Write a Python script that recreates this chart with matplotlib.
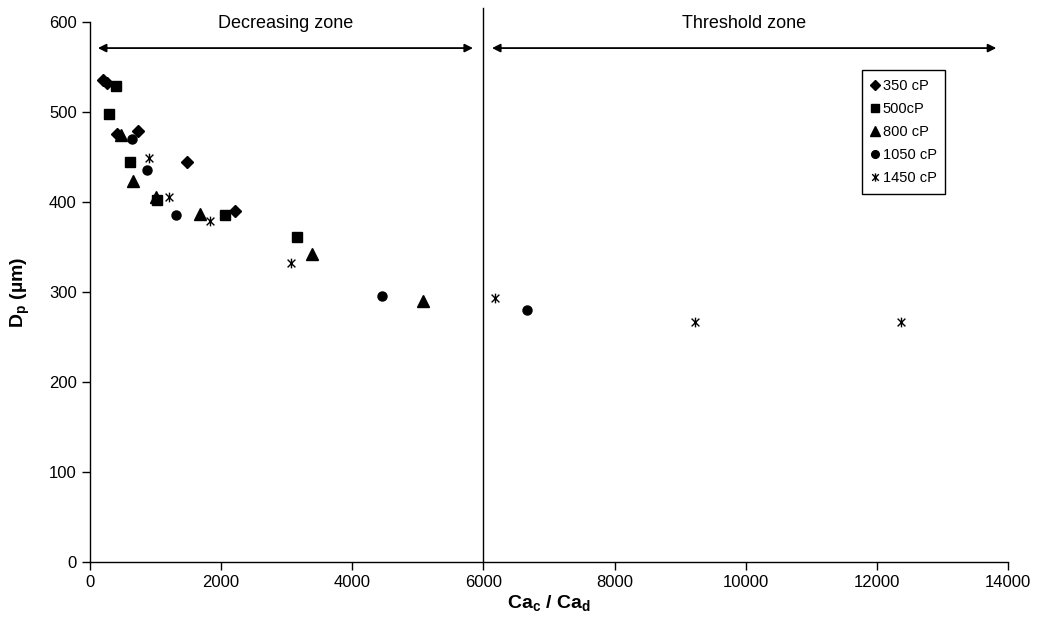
import matplotlib
matplotlib.use("Agg")
import matplotlib.pyplot as plt
from matplotlib.path import Path

plt.rcParams['font.family'] = ['Liberation Sans', 'DejaVu Sans']
plt.rcParams['mathtext.fontset'] = 'custom'
plt.rcParams['mathtext.rm'] = 'Liberation Sans'
plt.rcParams['mathtext.bf'] = 'Liberation Sans:bold'
plt.rcParams['mathtext.it'] = 'Liberation Sans:italic'

# Data (Ca_c/Ca_d, Dp in µm)
x_350 = [193, 254, 417, 727, 1475, 2207]
y_350 = [535, 532, 476, 479, 444, 390]
x_500 = [295, 397, 610, 1027, 2064, 3162]
y_500 = [498, 529, 444, 402, 386, 361]
x_800 = [478, 661, 1007, 1683, 3391, 5083]
y_800 = [474, 423, 405, 387, 342, 290]
x_1050 = [636, 865, 1307, 4458, 6665]
y_1050 = [470, 436, 386, 296, 280]
x_1450 = [905, 1210, 1835, 3065, 6180, 9227, 12368]
y_1450 = [449, 405, 379, 332, 293, 267, 267]
labels = ['350 cP', '500cP', '800 cP', '1050 cP', '1450 cP']

# zone annotations
zone_boundary = 6000
zone_names = ['Decreasing zone', 'Threshold zone']
zone_arrows = [(120, 5840), (6130, 13820)]

# asterisk marker: vertical line + X
star = Path([(0, -1), (0, 1), (-0.8, -0.8), (0.8, 0.8), (-0.8, 0.8), (0.8, -0.8)],
            [Path.MOVETO, Path.LINETO, Path.MOVETO, Path.LINETO, Path.MOVETO, Path.LINETO])

fig = plt.figure(figsize=(10.37, 6.26), dpi=100)
ax = fig.add_axes([0.0868, 0.1022, 0.8853, 0.8627])

ax.plot(x_350, y_350, ls='none', marker='D', ms=6.5, color='black', label=labels[0])
ax.plot(x_500, y_500, ls='none', marker='s', ms=7, color='black', label=labels[1])
ax.plot(x_800, y_800, ls='none', marker='^', ms=8, color='black', label=labels[2])
ax.plot(x_1050, y_1050, ls='none', marker='o', ms=6.5, color='black', label=labels[3])
ax.plot(x_1450, y_1450, ls='none', marker=star, ms=7, mew=1.0, color='black',
        mfc='none', label=labels[4])

ax.set_xlim(0, 14000)
ax.set_ylim(0, 600)
ax.set_xticks(range(0, 14001, 2000))
ax.set_yticks(range(0, 601, 100))
ax.spines['top'].set_visible(False)
ax.spines['right'].set_visible(False)
ax.spines['left'].set_linewidth(1.0)
ax.spines['bottom'].set_linewidth(1.0)
ax.tick_params(direction='out', length=6, width=1.0, labelsize=12, colors='black')

ax.set_xlabel(r'$\mathbf{Ca_c\ /\ Ca_d}$', fontsize=14, labelpad=2)
ax.set_ylabel(r'$\mathbf{D_p\ (µm)}$', fontsize=14, labelpad=12)

# vertical boundary line
ax.plot([zone_boundary, zone_boundary], [0, 615], color='black', lw=1.0, clip_on=False)

# arrows and zone texts
for (a, b), name in zip(zone_arrows, zone_names):
    ax.annotate('', xy=(a, 571), xytext=(b, 571),
                arrowprops=dict(arrowstyle='<|-|>', color='black', lw=1.3,
                                mutation_scale=12, shrinkA=0, shrinkB=0))
    ax.text((a + b) / 2, 598, name, ha='center', va='center', fontsize=13)

leg = ax.legend(loc='upper left', bbox_to_anchor=(0.841, 0.911), fontsize=10.5,
                frameon=True, fancybox=False, edgecolor='black', framealpha=1,
                handlelength=0.6, handletextpad=0.2, labelspacing=0.62,
                borderpad=0.6, markerscale=0.85, borderaxespad=0)
leg.get_frame().set_linewidth(1.0)

fig.savefig('out.png', dpi=100)
